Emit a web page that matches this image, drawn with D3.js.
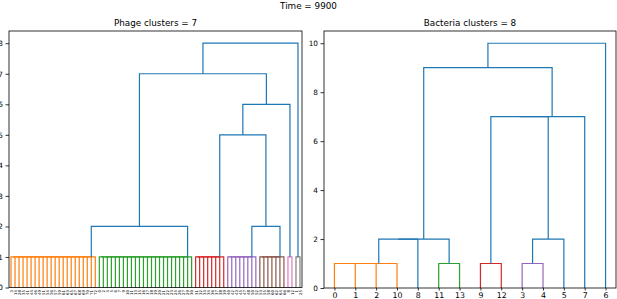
<!DOCTYPE html>
<html><head><meta charset="utf-8">
<script src="https://cdn.jsdelivr.net/npm/d3@7"></script>
<style>body{margin:0;background:#fff}svg{display:block}text{font-family:"DejaVu Sans",sans-serif;fill:#000}</style>
</head><body>
<svg id="c" width="617" height="299"></svg>
<script>
// ---------- data ----------
const figTitle = "Time = 9900";
const phageTitle = "Phage clusters = 7";
const bacteriaTitle = "Bacteria clusters = 8";

// Phage: leaf groups (left to right), each merged internally at height 1
const phageClusterSizes = [22, 24, 8, 8, 7, 2, 2];
const phageClusterColors = ["#ff7f0e", "#2ca02c", "#d62728", "#9467bd", "#8c564b", "#e377c2", "#7f7f7f"];
const phageClusterHeights = [1, 1, 1, 1, 1, 1, 1];
const phageLeafLabels = [3,14,28,35,41,44,46,49,51,54,56,57,59,61,63,65,67,68,69,70,71,72,
  0,2,4,5,6,7,9,10,11,13,15,16,17,18,19,20,21,22,23,24,26,27,29,30,
  31,32,33,34,36,37,38,39, 40,42,43,45,47,48,50,52, 53,55,58,60,62,64,66, 8,12, 1,25];
// upper merges: [nodeA, nodeB, height]; nodes 0..6 are clusters, new ids follow
const phageMerges = [[0,1,2],[3,4,2],[2,8,5],[9,5,6],[7,10,7],[11,6,8]];
const phageYTicks = [0,1,2,3,4,5,6,7,8];

// Bacteria
const bacteriaClusterSizes = [4, 1, 2, 2, 2, 1, 1, 1];
const bacteriaClusterColors = ["#ff7f0e", "#1f77b4", "#2ca02c", "#d62728", "#9467bd", "#1f77b4", "#1f77b4", "#1f77b4"];
const bacteriaClusterHeights = [1, 0, 1, 1, 1, 0, 0, 0];
const bacteriaLeafLabels = [0,1,2,10,8,11,13,9,12,3,4,5,7,6];
const bacteriaMerges = [[0,1,2],[8,2,2],[4,5,2],[3,10,7],[11,6,7],[9,12,9],[13,7,10]];
const bacteriaYTicks = [0,2,4,6,8,10];

const aboveColor = "#1f77b4";

// ---------- drawing ----------
const svg = d3.select("#c");
svg.append("text").attr("x", 308.5).attr("y", 8.5).attr("text-anchor","middle")
  .style("font-size","8.8px").text(figTitle);

function dendro(box, title, sizes, colors, heights, labels, merges, yTicks, leafFont, leafRot){
  const N = labels.length;
  const maxH = d3.max(merges, m => m[2]);
  const x = d3.scaleLinear().domain([0, 10*N]).range([box.x0, box.x1]);
  const y = d3.scaleLinear().domain([0, maxH*1.05]).range([box.y1, box.y0]);
  const g = svg.append("g");
  const lines = g.append("g").attr("fill","none").attr("stroke-width",1.2);
  const U = (xa,ha,xb,hb,h,col) => lines.append("path")
     .attr("d", `M${x(xa)},${y(ha)}V${y(h)}H${x(xb)}V${y(hb)}`).attr("stroke", col);
  const nodes = [];
  let start = 0;
  sizes.forEach((n, c) => {
    const pos = d3.range(n).map(i => 10*(start+i)+5);
    if (n === 1) { nodes.push({x: pos[0], h: 0}); }
    else {
      let cx = pos[0], ch = 0;
      for (let i = 1; i < n; i++) {
        U(cx, ch, pos[i], 0, heights[c], colors[c]);
        cx = (cx + pos[i]) / 2; ch = heights[c];
      }
      nodes.push({x: cx, h: ch});
    }
    start += n;
  });
  merges.forEach(([a,b,h]) => {
    const A = nodes[a], B = nodes[b];
    U(A.x, A.h, B.x, B.h, h, aboveColor);
    nodes.push({x: (A.x+B.x)/2, h: h});
  });
  // axes
  const ya = g.append("g").attr("transform",`translate(${box.x0},0)`)
    .call(d3.axisLeft(y).tickValues(yTicks).tickSize(3.5).tickPadding(2.5));
  ya.select(".domain").remove();
  ya.selectAll("text").style("font-size","7.3px").style("font-family","DejaVu Sans");
  ya.selectAll("line").attr("stroke","#000").attr("stroke-width",0.8);
  const xa = g.append("g").attr("transform",`translate(0,${box.y1})`)
    .call(d3.axisBottom(x).tickValues(d3.range(N).map(i=>10*i+5)).tickFormat((d,i)=>labels[i])
      .tickSize(leafRot ? 0 : 2.5).tickPadding(leafRot ? 2.5 : 2));
  xa.select(".domain").remove();
  xa.selectAll("line").attr("stroke","#000").attr("stroke-width",0.8);
  const xt = xa.selectAll("text").style("font-size", leafFont+"px").style("font-family","DejaVu Sans");
  if (leafRot) {
    xt.attr("transform","rotate(-90)").attr("dy","0.35em").attr("x", -2.5).attr("y",0)
      .attr("text-anchor","end");
  }
  g.append("rect").attr("x",box.x0).attr("y",box.y0).attr("width",box.x1-box.x0)
    .attr("height",box.y1-box.y0).attr("fill","none").attr("stroke","#000").attr("stroke-width",0.8);
  g.append("text").attr("x",(box.x0+box.x1)/2).attr("y",box.y0-5).attr("text-anchor","middle")
    .style("font-size","8.8px").text(title);
}

dendro({x0:9, x1:302, y0:31, y1:287.5}, phageTitle, phageClusterSizes, phageClusterColors,
  phageClusterHeights, phageLeafLabels, phageMerges, phageYTicks, 3.9, true);
dendro({x0:324, x1:616, y0:31, y1:288}, bacteriaTitle, bacteriaClusterSizes, bacteriaClusterColors,
  bacteriaClusterHeights, bacteriaLeafLabels, bacteriaMerges, bacteriaYTicks, 7.8, false);
</script>
</body></html>
